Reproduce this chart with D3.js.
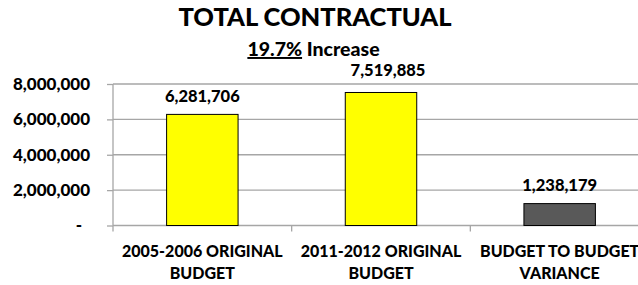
<!DOCTYPE html>
<html>
<head>
<meta charset="utf-8">
<script src="https://cdn.jsdelivr.net/npm/d3@7"></script>
<style>
  html, body { margin: 0; padding: 0; background: #fff; }
  svg { display: block; }
  text { font-family: Lato, "Open Sans", sans-serif; font-weight: 900; fill: #000; }
</style>
</head>
<body>
<svg id="chart" width="638" height="285"></svg>
<script>
const categories = [["2005-2006 ORIGINAL", "BUDGET"], ["2011-2012 ORIGINAL", "BUDGET"], ["BUDGET TO BUDGET", "VARIANCE"]];
const values = [6281706, 7519885, 1238179];
const barColors = ["#ffff00", "#ffff00", "#595959"];
const yTicks = [0, 2000000, 4000000, 6000000, 8000000];
const titleText = "TOTAL CONTRACTUAL";
const subtitlePct = "19.7%";
const subtitleRest = " Increase";

const W = 638, H = 285;
const plot = { left: 113, right: 649, top: 84, bottom: 225.5 };
const svg = d3.select("#chart");

const x = d3.scaleBand().domain(d3.range(categories.length))
  .range([plot.left, plot.right]).paddingInner(0.6).paddingOuter(0.3);
const step = x.step();
const y = d3.scaleLinear().domain([0, 8000000]).range([plot.bottom, plot.top]);

// gridlines
svg.append("g").selectAll("line").data(yTicks.filter(d => d > 0)).join("line")
  .attr("x1", plot.left).attr("x2", plot.right)
  .attr("y1", d => y(d)).attr("y2", d => y(d))
  .attr("stroke", "#a6a6a6").attr("stroke-width", 1.3);

// y axis
const yAxis = d3.axisLeft(y).tickValues(yTicks).tickSize(6).tickPadding(17)
  .tickFormat(d => d === 0 ? "-" : d3.format(",")(d));
const gy = svg.append("g").attr("transform", `translate(${plot.left},0)`).call(yAxis);
gy.select(".domain").attr("stroke", "#a6a6a6").attr("stroke-width", 1.3).attr("d", `M0,${plot.top}V${plot.bottom}`);
gy.selectAll(".tick line").attr("stroke", "#a6a6a6").attr("stroke-width", 1.3);
gy.selectAll(".tick text").style("font-family", "Lato, sans-serif").style("font-weight", "900")
  .style("font-size", "17px").attr("fill", "#000")
  .attr("dx", d => d === 0 ? -8 : 0);

// x axis line and boundary ticks
svg.append("line").attr("x1", plot.left).attr("x2", plot.right)
  .attr("y1", plot.bottom).attr("y2", plot.bottom)
  .attr("stroke", "#a6a6a6").attr("stroke-width", 1.3);
svg.append("g").selectAll("line").data(d3.range(categories.length + 1)).join("line")
  .attr("x1", i => plot.left + i * step).attr("x2", i => plot.left + i * step)
  .attr("y1", plot.bottom).attr("y2", plot.bottom + 6)
  .attr("stroke", "#a6a6a6").attr("stroke-width", 1.3);

// bars
svg.append("g").selectAll("rect").data(values).join("rect")
  .attr("x", (d, i) => x(i)).attr("width", x.bandwidth())
  .attr("y", d => y(d)).attr("height", d => y(0) - y(d))
  .attr("fill", (d, i) => barColors[i]).attr("stroke", "#000").attr("stroke-width", 1);

// value labels
const nudge = { 1: [7, -4] };
svg.append("g").selectAll("text").data(values).join("text")
  .attr("x", (d, i) => x(i) + x.bandwidth() / 2 + (nudge[i] ? nudge[i][0] : 0))
  .attr("y", (d, i) => y(d) - 12.5 + (nudge[i] ? nudge[i][1] : 0))
  .attr("text-anchor", "middle").style("font-size", "16.5px")
  .text(d => d3.format(",")(d));

// category labels
const cat = svg.append("g").selectAll("text").data(categories).join("text")
  .attr("text-anchor", "middle").style("font-size", "16px")
  .attr("x", (d, i) => x(i) + x.bandwidth() / 2).attr("y", plot.bottom + 31.5);
cat.selectAll("tspan").data(d => d).join("tspan")
  .attr("x", function () { return this.parentNode.getAttribute("x"); })
  .attr("dy", (d, j) => j === 0 ? 0 : 21.6)
  .text(d => d);

// title
svg.append("text").attr("x", 315).attr("y", 26).attr("text-anchor", "middle")
  .style("font-size", "25.5px").text(titleText);
const sub = svg.append("text").attr("x", 313.5).attr("y", 56).attr("text-anchor", "middle")
  .style("font-size", "19.5px");
sub.append("tspan").style("text-decoration", "underline").text(subtitlePct);
sub.append("tspan").text(subtitleRest);
</script>
</body>
</html>
